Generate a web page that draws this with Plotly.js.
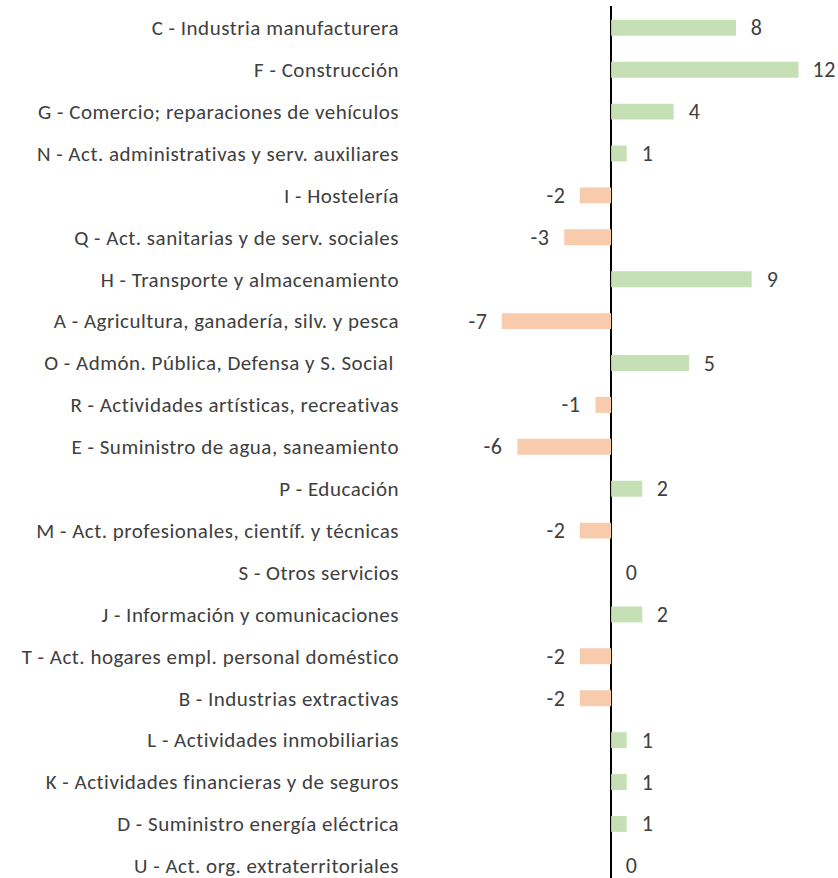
<!DOCTYPE html>
<html>
<head>
<meta charset="utf-8">
<script src="https://cdn.plot.ly/plotly-3.0.1.min.js"></script>
<style>
html,body{margin:0;padding:0;background:#fff;}
#chart{width:838px;height:878px;}
#chart .ytick text{letter-spacing:0.5px;}
#chart .annotation text{letter-spacing:0.6px;}
</style>
</head>
<body>
<div id="chart"></div>
<script>
const categories = [
  "C - Industria manufacturera",
  "F - Construcción",
  "G - Comercio; reparaciones de vehículos",
  "N - Act. administrativas y serv. auxiliares",
  "I - Hostelería",
  "Q - Act. sanitarias y de serv. sociales",
  "H - Transporte y almacenamiento",
  "A - Agricultura, ganadería, silv. y pesca",
  "O - Admón. Pública, Defensa y S. Social ",
  "R - Actividades artísticas, recreativas",
  "E - Suministro de agua, saneamiento",
  "P - Educación",
  "M - Act. profesionales, científ. y técnicas",
  "S - Otros servicios",
  "J - Información y comunicaciones",
  "T - Act. hogares empl. personal doméstico",
  "B - Industrias extractivas",
  "L - Actividades inmobiliarias",
  "K - Actividades financieras y de seguros",
  "D - Suministro energía eléctrica",
  "U - Act. org. extraterritoriales"
];
const values = [8, 12, 4, 1, -2, -3, 9, -7, 5, -1, -6, 2, -2, 0, 2, -2, -2, 1, 1, 1, 0];

const positiveColor = "#c5e0b4";
const negativeColor = "#f8cbad";
const fontFamily = "Carlito, Calibri, 'Open Sans', sans-serif";
const textColor = "#404040";

const trace = {
  type: "bar",
  orientation: "h",
  x: values,
  y: categories,
  width: 0.38,
  marker: {color: values.map(v => v >= 0 ? positiveColor : negativeColor)},
  hoverinfo: "x+y"
};

const annotations = values.map((v, i) => ({
  x: v,
  y: categories[i],
  xref: "x",
  yref: "y",
  text: String(v),
  showarrow: false,
  xanchor: v >= 0 ? "left" : "right",
  xshift: v >= 0 ? 13 : -13,
  font: {family: fontFamily, size: 22, color: textColor}
}));

const layout = {
  width: 838,
  height: 878,
  margin: {l: 412, r: 20, t: 6, b: 0},
  paper_bgcolor: "#fff",
  plot_bgcolor: "#fff",
  showlegend: false,
  xaxis: {
    range: [-12.75, 13.25],
    showgrid: false,
    showticklabels: false,
    zeroline: true,
    zerolinecolor: "#000",
    zerolinewidth: 1.5,
    fixedrange: true
  },
  yaxis: {
    type: "category",
    range: [20.29, -0.52],
    showgrid: false,
    zeroline: false,
    ticks: "",
    ticklabelstandoff: 12,
    tickfont: {family: fontFamily, size: 21, color: textColor},
    fixedrange: true
  },
  annotations: annotations
};

Plotly.newPlot("chart", [trace], layout, {displayModeBar: false, staticPlot: true});
</script>
</body>
</html>
